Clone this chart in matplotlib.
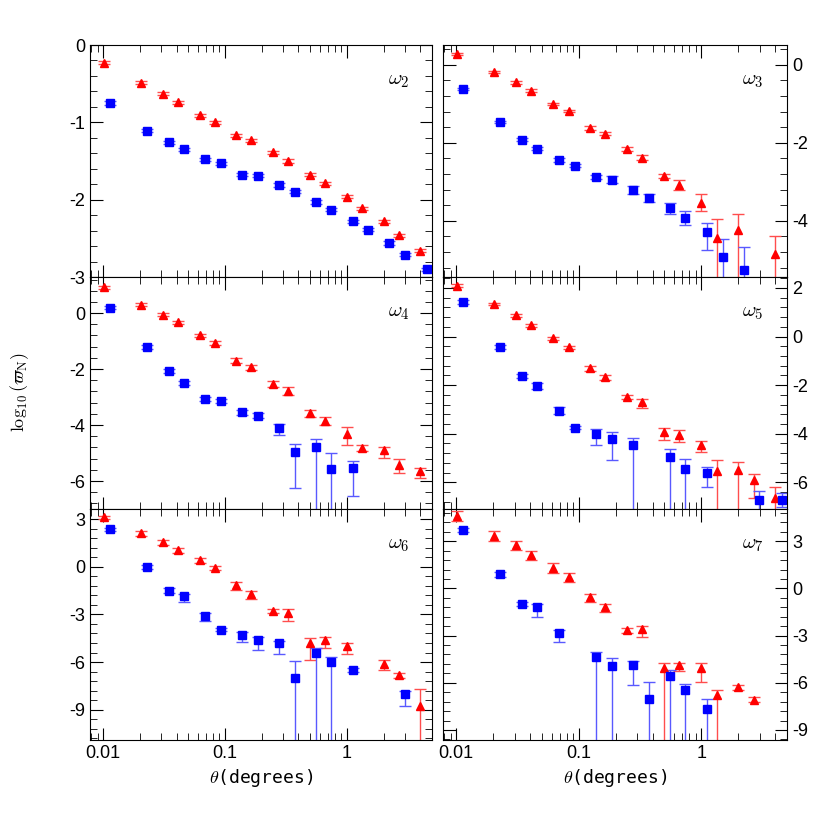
import numpy as np
import matplotlib.pyplot as plt
from matplotlib.ticker import AutoMinorLocator, FixedLocator, FixedFormatter, NullFormatter

nan = np.nan
BIG = 30.0  # error bar running off the bottom of the panel

# angular bins (degrees)
theta_red = [0.0102, 0.0205, 0.031, 0.041, 0.062, 0.083, 0.123, 0.163, 0.247, 0.33,
             0.50, 0.66, 1.0, 1.33, 2.0, 2.67, 4.0]
theta_blue = [0.0114, 0.0229, 0.0347, 0.046, 0.0685, 0.0927, 0.138, 0.186, 0.277, 0.375,
              0.557, 0.74, 1.12, 1.49, 2.21, 2.98, 4.53]

# omega_2
w2_red = [-0.23, -0.49, -0.63, -0.74, -0.91, -1.0, -1.17, -1.23, -1.39, -1.50, -1.68, -1.79, -1.96, -2.11, -2.28, -2.46, -2.66]
w2_red_lo = [0.02] * 17
w2_red_hi = [0.02] * 17
w2_blue = [-0.75, -1.11, -1.26, -1.35, -1.48, -1.53, -1.68, -1.69, -1.81, -1.90, -2.03, -2.13, -2.28, -2.39, -2.56, -2.71, -2.90]
w2_blue_lo = [0.02] * 17
w2_blue_hi = [0.02] * 17

# omega_3
w3_red = [0.28, -0.18, -0.45, -0.66, -1.0, -1.19, -1.62, -1.77, -2.15, -2.38, -2.85, -3.08, -3.53, -4.44, -4.23, nan, -4.85]
w3_red_lo = [0.03, 0.03, 0.03, 0.03, 0.03, 0.03, 0.04, 0.04, 0.05, 0.06, 0.06, 0.13, 0.23, BIG, BIG, 0, BIG]
w3_red_hi = [0.03, 0.03, 0.03, 0.03, 0.03, 0.03, 0.04, 0.04, 0.05, 0.06, 0.06, 0.13, 0.23, 0.5, 0.4, 0, 0.45]
w3_blue = [-0.62, -1.46, -1.92, -2.15, -2.45, -2.59, -2.87, -2.94, -3.21, -3.42, -3.68, -3.93, -4.29, -4.92, -5.27, nan, nan]
w3_blue_lo = [0.03, 0.03, 0.04, 0.04, 0.05, 0.04, 0.05, 0.08, 0.1, 0.1, 0.15, 0.18, 0.45, BIG, BIG, 0, 0]
w3_blue_hi = [0.03, 0.03, 0.04, 0.04, 0.05, 0.04, 0.05, 0.08, 0.1, 0.1, 0.15, 0.18, 0.23, 0.45, 0.6, 0, 0]

# omega_4
w4_red = [0.92, 0.30, -0.05, -0.33, -0.80, -1.07, -1.70, -1.94, -2.54, -2.79, -3.58, -3.85, -4.33, -4.82, -4.89, -5.43, -5.64]
w4_red_lo = [0.05, 0.05, 0.05, 0.05, 0.06, 0.06, 0.08, 0.08, 0.1, 0.15, 0.12, 0.15, 0.4, 0.1, 0.3, 0.3, 0.25]
w4_red_hi = [0.05, 0.05, 0.05, 0.05, 0.06, 0.06, 0.08, 0.08, 0.1, 0.15, 0.12, 0.15, 0.25, 0.1, 0.1, 0.2, 0.1]
w4_blue = [0.2, -1.21, -2.07, -2.49, -3.06, -3.15, -3.55, -3.66, -4.12, -4.96, -4.79, -5.56, -5.52, nan, nan, nan, nan]
w4_blue_lo = [0.05, 0.06, 0.06, 0.07, 0.07, 0.07, 0.08, 0.08, 0.25, 1.3, BIG, BIG, 1.0, 0, 0, 0, 0]
w4_blue_hi = [0.05, 0.06, 0.06, 0.07, 0.07, 0.07, 0.08, 0.08, 0.15, 0.27, 0.3, 0.55, 0.25, 0, 0, 0, 0]

# omega_5
w5_red = [2.10, 1.33, 0.87, 0.47, -0.08, -0.45, -1.31, -1.68, -2.50, -2.69, -3.95, -4.05, -4.45, -5.53, -5.48, -5.90, -6.65]
w5_red_lo = [0.05, 0.05, 0.06, 0.06, 0.07, 0.08, 0.1, 0.1, 0.08, 0.24, 0.3, 0.3, 0.3, BIG, BIG, 0.75, BIG]
w5_red_hi = [0.05, 0.05, 0.06, 0.06, 0.07, 0.08, 0.1, 0.1, 0.08, 0.12, 0.2, 0.2, 0.15, 0.43, 0.3, 0.24, 0.45]
w5_blue = [1.43, -0.44, -1.64, -2.03, -3.05, -3.75, -4.01, -4.22, -4.48, nan, -4.95, -5.44, -5.61, nan, nan, -6.75, -6.73]
w5_blue_lo = [0.08, 0.08, 0.08, 0.15, 0.15, 0.07, 0.44, 0.88, BIG, 0, BIG, BIG, 0.6, 0, 0, BIG, 0.3]
w5_blue_hi = [0.08, 0.08, 0.08, 0.1, 0.15, 0.07, 0.2, 0.27, 0.3, 0, 0.3, 0.4, 0.22, 0, 0, 0.4, 0.3]

# omega_6
w6_red = [3.11, 2.11, 1.53, 1.04, 0.41, -0.08, -1.18, -1.70, -2.76, -2.91, -4.77, -4.61, -4.97, nan, -6.09, -6.83, -8.77]
w6_red_lo = [0.1, 0.15, 0.15, 0.15, 0.15, 0.15, 0.3, 0.3, 0.15, 0.5, 1.1, 0.5, 0.5, 0, 0.4, 0.15, BIG]
w6_red_hi = [0.1, 0.15, 0.15, 0.15, 0.15, 0.15, 0.2, 0.2, 0.1, 0.25, 0.28, 0.2, 0.2, 0, 0.2, 0.15, 1.05]
w6_blue = [2.35, 0.0, -1.52, -1.84, -3.13, -3.96, -4.32, -4.61, -4.80, -7.0, -5.42, -6.01, -6.50, nan, nan, -8.03, nan]
w6_blue_lo = [0.1, 0.12, 0.15, 0.38, 0.3, 0.1, 0.4, 0.6, 0.7, BIG, BIG, BIG, 0.1, 0, 0, 0.75, 0]
w6_blue_hi = [0.1, 0.12, 0.15, 0.15, 0.2, 0.1, 0.2, 0.2, 0.15, 1.1, 0.28, 0.3, 0.1, 0, 0, 0.2, 0]

# omega_7
w7_red = [4.60, 3.34, 2.74, 2.10, 1.31, 0.71, -0.57, -1.21, -2.66, -2.58, -5.06, -4.88, -5.06, -6.76, -6.28, -7.08, nan]
w7_red_lo = [0.3, 0.3, 0.3, 0.3, 0.3, 0.3, 0.3, 0.3, 0.15, 0.5, BIG, 0.4, 0.9, BIG, 0.15, 0.15, 0]
w7_red_hi = [0.3, 0.3, 0.3, 0.3, 0.3, 0.3, 0.2, 0.2, 0.15, 0.2, 0.3, 0.15, 0.3, 0.3, 0.15, 0.15, 0]
w7_blue = [3.71, 0.89, -0.99, -1.17, -2.83, nan, -4.37, -4.95, -4.84, -7.05, -5.57, -6.44, -7.66, nan, nan, nan, nan]
w7_blue_lo = [0.15, 0.15, 0.15, 0.65, 0.6, 0, BIG, BIG, 1.3, BIG, BIG, BIG, BIG, 0, 0, 0, 0]
w7_blue_hi = [0.15, 0.15, 0.15, 0.2, 0.2, 0, 0.3, 0.5, 0.25, 1.1, 0.35, 0.35, 0.6, 0, 0, 0, 0]

panels = [
    ('$\\omega_2$', (-3.0, 0.0), 1, w2_red, w2_red_lo, w2_red_hi, w2_blue, w2_blue_lo, w2_blue_hi),
    ('$\\omega_3$', (-5.44, 0.51), 2, w3_red, w3_red_lo, w3_red_hi, w3_blue, w3_blue_lo, w3_blue_hi),
    ('$\\omega_4$', (-7.0, 1.29), 2, w4_red, w4_red_lo, w4_red_hi, w4_blue, w4_blue_lo, w4_blue_hi),
    ('$\\omega_5$', (-7.1, 2.45), 2, w5_red, w5_red_lo, w5_red_hi, w5_blue, w5_blue_lo, w5_blue_hi),
    ('$\\omega_6$', (-10.9, 3.63), 3, w6_red, w6_red_lo, w6_red_hi, w6_blue, w6_blue_lo, w6_blue_hi),
    ('$\\omega_7$', (-9.64, 5.05), 3, w7_red, w7_red_lo, w7_red_hi, w7_blue, w7_blue_lo, w7_blue_hi),
]

plt.rcParams['font.family'] = ['Liberation Sans', 'DejaVu Sans']
plt.rcParams['mathtext.fontset'] = 'cm'
plt.rcParams['axes.unicode_minus'] = False

fig = plt.figure(figsize=(8.3, 8.3), dpi=100)
W, H = 830.0, 830.0
col_x = [(90, 432), (443, 787)]
row_y = [(45, 277), (277, 509), (509, 740)]

for i, (lab, ylim, step, ry, rlo, rhi, by, blo, bhi) in enumerate(panels):
    r, c = divmod(i, 2)
    x0, x1 = col_x[c]
    y0, y1 = row_y[r]
    ax = fig.add_axes([x0 / W, 1 - y1 / H, (x1 - x0) / W, (y1 - y0) / H])
    ax.errorbar(theta_red, ry, yerr=[rlo, rhi], fmt='^', color='red', ms=6,
                ecolor=(1, 0.3, 0.3), elinewidth=1, capsize=4, capthick=1)
    ax.errorbar(theta_blue, by, yerr=[blo, bhi], fmt='s', color='blue', ms=5.5,
                ecolor=(0.35, 0.35, 1), elinewidth=1, capsize=4, capthick=1)
    ax.set_xscale('log')
    ax.set_xlim(0.0078, 5.0)
    ax.set_ylim(*ylim)
    ax.yaxis.set_major_locator(FixedLocator(np.arange(-12, 6, step)))
    ax.yaxis.set_minor_locator(AutoMinorLocator(5))
    ax.xaxis.set_major_locator(FixedLocator([0.01, 0.1, 1]))
    ax.xaxis.set_minor_formatter(NullFormatter())
    ax.tick_params(which='both', direction='in', top=True, right=True, labelsize=13)
    ax.tick_params(which='major', length=9)
    ax.tick_params(which='minor', length=5)
    if c == 1:
        ax.yaxis.tick_right()
        ax.tick_params(which='both', left=True)
    if r == 2:
        ax.xaxis.set_major_formatter(FixedFormatter(['0.01', '0.1', '1']))
        ax.set_xlabel('$\\theta$(degrees)', family='DejaVu Sans Mono', fontsize=13)
    else:
        ax.set_xticklabels([])
    ax.text(0.87, 0.83, lab, transform=ax.transAxes, fontsize=15)

fig.text(20 / W, 1 - 392 / H, '$\\log_{10}(\\varpi_{\\rm N})$', rotation=90,
         va='center', ha='center', fontsize=13)

plt.savefig('out.png', dpi=100)
